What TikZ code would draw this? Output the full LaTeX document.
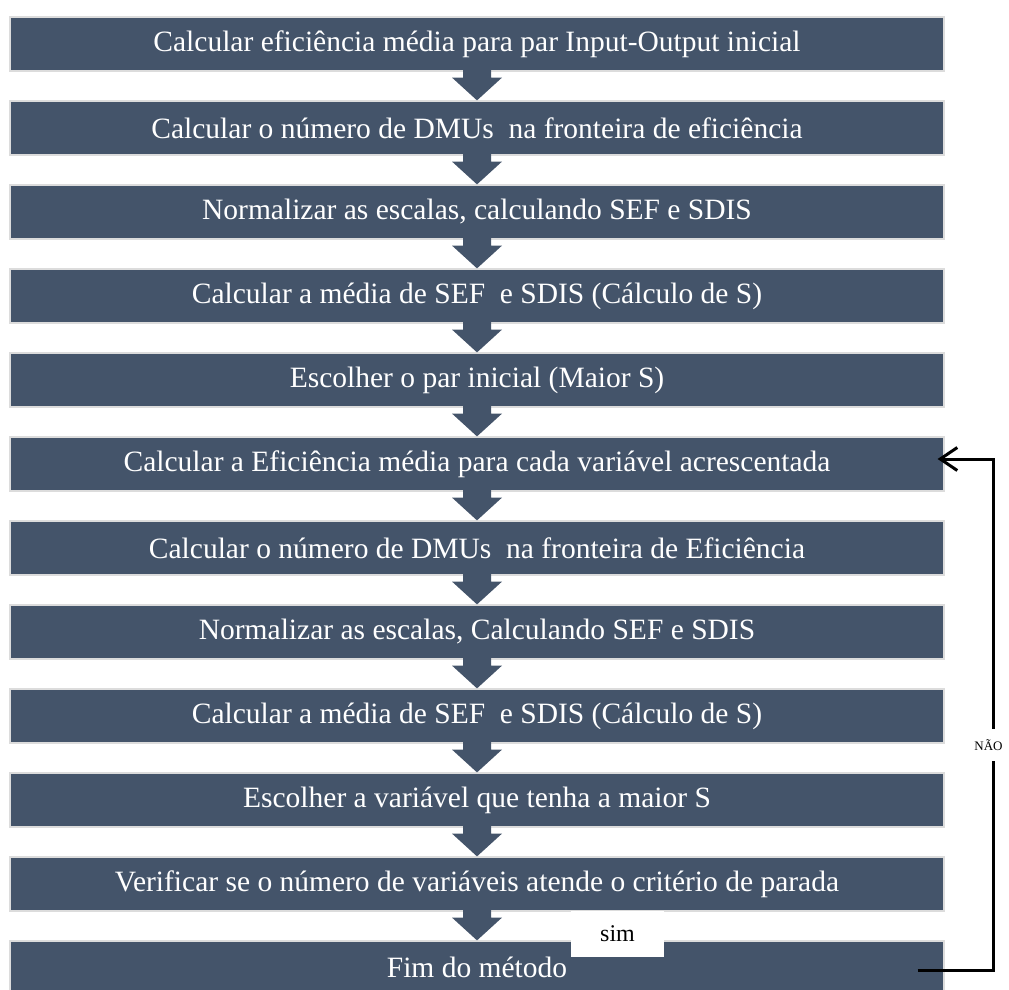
\documentclass[tikz,border=0pt]{standalone}
\usepackage{fontspec}
\setmainfont{Liberation Serif}
\usetikzlibrary{calc,arrows.meta}
\definecolor{boxblue}{HTML}{44546A}
\definecolor{rim}{HTML}{DCDCDC}
\begin{document}
\begin{tikzpicture}[x=1pt,y=-1pt,
  stepbox/.style={fill=boxblue, draw=rim, line width=1.2pt, minimum width=934pt,
    minimum height=54pt, inner sep=0pt, text=white, font=\fontsize{29.5}{34}\selectfont},
  blockarrow/.style={fill=boxblue},
  loopline/.style={line width=3pt, -{Straight Barb[length=17pt,width=23pt]}},
  whitelabel/.style={fill=white, text=black, inner sep=0pt}
]
\useasboundingbox (0,0) rectangle (1009,990);
\node[stepbox] (b1) at (477,44) {Calcular eficiência média para par Input-Output inicial};
\node[stepbox] (b2) at (477,128) {Calcular o número de DMUs\ \ na fronteira de eficiência};
\node[stepbox] (b3) at (477,212) {Normalizar as escalas, calculando SEF e SDIS};
\node[stepbox] (b4) at (477,296) {Calcular a média de SEF\ \ e SDIS (Cálculo de S)};
\node[stepbox] (b5) at (477,380) {Escolher o par inicial (Maior S)};
\node[stepbox] (b6) at (477,464) {Calcular a Eficiência média para cada variável acrescentada};
\node[stepbox] (b7) at (477,548) {Calcular o número de DMUs\ \ na fronteira de Eficiência};
\node[stepbox] (b8) at (477,632) {Normalizar as escalas, Calculando SEF e SDIS};
\node[stepbox] (b9) at (477,716) {Calcular a média de SEF\ \ e SDIS (Cálculo de S)};
\node[stepbox] (b10) at (477,800) {Escolher a variável que tenha a maior S};
\node[stepbox] (b11) at (477,884) {Verificar se o número de variáveis atende o critério de parada};
\node[stepbox, minimum height=52pt] (b12) at (477,967) {Fim do método};
\foreach \a/\b in {b1/b2,b2/b3,b3/b4,b4/b5,b5/b6,b6/b7,b7/b8,b8/b9,b9/b10,b10/b11,b11/b12}{
  \fill[blockarrow] ($(\a.south)+(-14,-2)$) -- ($(\a.south)+(-14,6)$) -- ($(\a.south)+(-25,6)$)
    -- (\b.north) -- ($(\a.south)+(25,6)$) -- ($(\a.south)+(14,6)$) -- ($(\a.south)+(14,-2)$) -- cycle;
}
\coordinate (ls) at ($(b12.east)+(-27,3)$);
\coordinate (le) at ($(b6.east)+(-7,-5)$);
\draw[loopline] (ls) -| ($(b6.east)+(49,-5)$) -- (le);
\node[whitelabel, font=\fontsize{13}{14}\selectfont, minimum height=32pt, minimum width=34pt] (nao) at (988.5,745) {NÃO};
\node[whitelabel, font=\fontsize{24}{28}\selectfont, minimum width=93pt, minimum height=46pt] (sim) at (617.5,934) {sim};
\end{tikzpicture}
\end{document}
